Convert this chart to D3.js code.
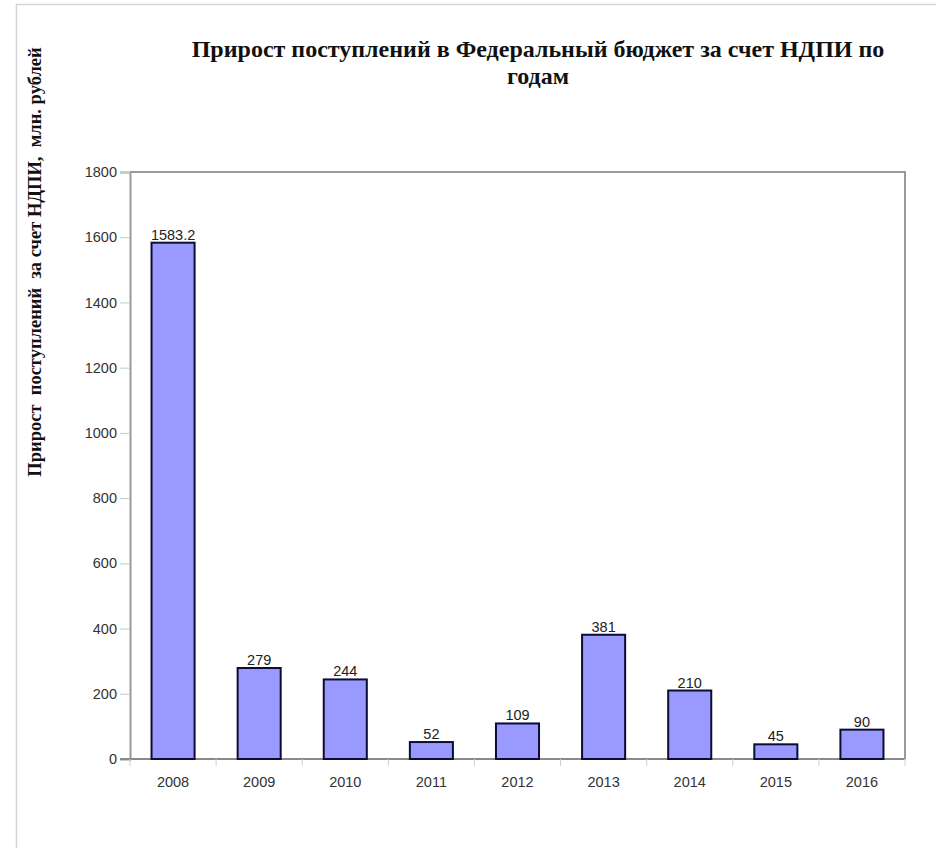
<!DOCTYPE html>
<html>
<head>
<meta charset="utf-8">
<script src="https://cdn.jsdelivr.net/npm/d3@7/dist/d3.min.js"></script>
<style>
  html, body { margin: 0; padding: 0; background: #fff; }
  svg { display: block; }
  .serif { font-family: "Liberation Serif", "Tinos", "Times New Roman", serif; font-weight: bold; }
  .sans { font-family: Arial, "Liberation Sans", sans-serif; }
</style>
</head>
<body>
<svg id="chart" width="936" height="848"></svg>
<script>
// Annual growth of mineral extraction tax (НДПИ) revenue, mln roubles
const years = ["2008", "2009", "2010", "2011", "2012", "2013", "2014", "2015", "2016"];
const values = [1583.2, 279, 244, 52, 109, 381, 210, 45, 90];
const valueLabels = ["1583.2", "279", "244", "52", "109", "381", "210", "45", "90"];
const yTicks = [0, 200, 400, 600, 800, 1000, 1200, 1400, 1600, 1800];
const titleLines = ["Прирост поступлений в Федеральный бюджет за счет НДПИ по", "годам"];
const yTitle = "Прирост  поступлений  за счет НДПИ,  млн. рублей";

const svg = d3.select("#chart");
const plot = { left: 130, top: 172, right: 905, bottom: 759 };

// outer frame (top and left edges)
svg.append("path")
  .attr("d", `M16.5,848 L16.5,4.5 L936,4.5`)
  .attr("fill", "none")
  .attr("stroke", "#d6d6d6")
  .attr("stroke-width", 1.5);

const x = d3.scaleBand()
  .domain(years)
  .range([plot.left, plot.right])
  .paddingInner(0.5)
  .paddingOuter(0.25);

const y = d3.scaleLinear()
  .domain([0, 1800])
  .range([plot.bottom, plot.top]);

// plot area border (top & right)
svg.append("path")
  .attr("d", `M${plot.left},${plot.top} L${plot.right},${plot.top} L${plot.right},${plot.bottom}`)
  .attr("fill", "none")
  .attr("stroke", "#9a9a9a")
  .attr("stroke-width", 2);

// y axis
const yAxis = svg.append("g")
  .attr("transform", `translate(${plot.left},0)`)
  .call(d3.axisLeft(y).tickValues(yTicks).tickSize(10).tickPadding(3).tickFormat(d3.format("d")));
yAxis.select(".domain").attr("stroke", "#9a9a9a").attr("stroke-width", 2);
yAxis.selectAll(".tick line").attr("stroke", "#c8c8c8").attr("stroke-width", 1);
yAxis.selectAll(".tick text")
  .attr("fill", "#333")
  .attr("class", "sans")
  .style("font-size", "14.5px");

// x axis: ticks sit on category boundaries
const xAxisG = svg.append("g").attr("transform", `translate(0,${plot.bottom})`);
const boundaries = d3.range(years.length + 1).map(i => plot.left + i * (plot.right - plot.left) / years.length);
xAxisG.append("line")
  .attr("x1", plot.left - 10).attr("x2", plot.right)
  .attr("y1", 0).attr("y2", 0)
  .attr("stroke", "#8a8a8a").attr("stroke-width", 2);
xAxisG.selectAll("line.tick")
  .data(boundaries)
  .join("line")
  .attr("class", "tick")
  .attr("x1", d => d).attr("x2", d => d)
  .attr("y1", 0).attr("y2", 7)
  .attr("stroke", "#cfcfcf").attr("stroke-width", 1);
xAxisG.selectAll("text")
  .data(years)
  .join("text")
  .attr("class", "sans")
  .attr("x", d => x(d) + x.bandwidth() / 2)
  .attr("y", 28)
  .attr("text-anchor", "middle")
  .attr("fill", "#333")
  .style("font-size", "14.5px")
  .text(d => d);

// bars
svg.append("g")
  .selectAll("rect")
  .data(values)
  .join("rect")
  .attr("x", (d, i) => x(years[i]))
  .attr("y", d => y(d))
  .attr("width", x.bandwidth())
  .attr("height", d => y(0) - y(d))
  .attr("fill", "#9999ff")
  .attr("stroke", "#0d0d33")
  .attr("stroke-width", 2);

// value labels
svg.append("g")
  .selectAll("text")
  .data(values)
  .join("text")
  .attr("class", "sans")
  .attr("x", (d, i) => x(years[i]) + x.bandwidth() / 2)
  .attr("y", d => y(d) - 3)
  .attr("text-anchor", "middle")
  .attr("fill", "#222")
  .style("font-size", "14.5px")
  .text((d, i) => valueLabels[i]);

// title
svg.append("text")
  .attr("class", "serif")
  .attr("text-anchor", "middle")
  .style("font-size", "24px")
  .attr("fill", "#111")
  .selectAll("tspan")
  .data(titleLines)
  .join("tspan")
  .attr("x", 538)
  .attr("y", (d, i) => 57 + i * 27)
  .text(d => d);

// y axis title
svg.append("text")
  .attr("class", "serif")
  .attr("transform", `translate(41,262) rotate(-90)`)
  .attr("text-anchor", "middle")
  .style("font-size", "18.5px")
  .style("white-space", "pre")
  .attr("fill", "#111")
  .text(yTitle);
</script>
</body>
</html>
